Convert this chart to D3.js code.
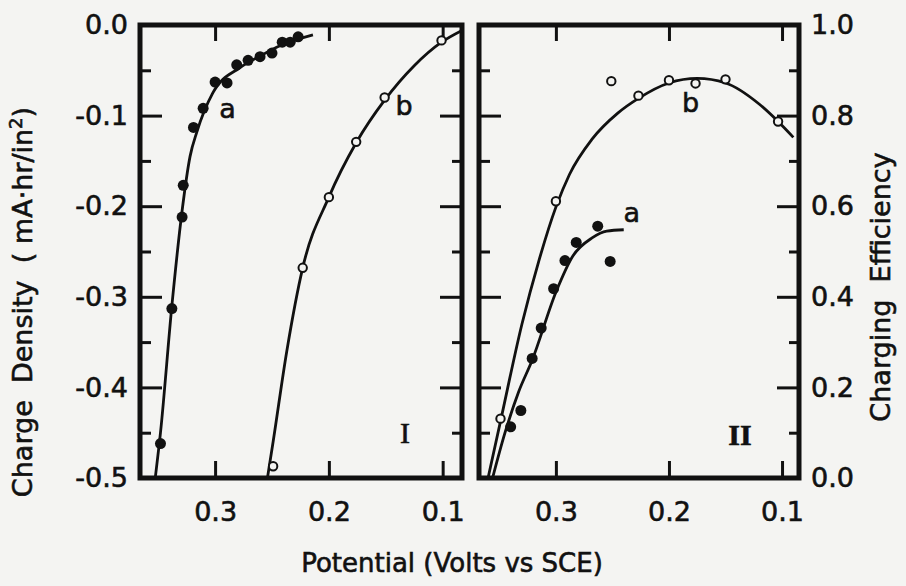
<!DOCTYPE html>
<html>
<head>
<meta charset="utf-8">
<script src="https://cdn.jsdelivr.net/npm/d3@7"></script>
<style>
  body { margin: 0; background: #f4f4f2; }
  text { font-family: "DejaVu Sans", sans-serif; fill: #111; stroke: #111; stroke-width: 0.6px; }
</style>
</head>
<body>
<div id="chart"></div>
<script>
// Panel I: charge density vs potential
var leftPointsA = [[0.348, -0.462], [0.338, -0.313], [0.329, -0.212], [0.328, -0.177], [0.319, -0.113],
    [0.3105, -0.092], [0.300, -0.063], [0.2895, -0.064], [0.281, -0.044], [0.271, -0.039],
    [0.2605, -0.035], [0.250, -0.031], [0.241, -0.019], [0.234, -0.019], [0.227, -0.013]];
var leftCurveA = [[0.3526, -0.5], [0.348, -0.45], [0.338, -0.31], [0.329, -0.205], [0.322, -0.145],
    [0.316, -0.118], [0.302, -0.075], [0.278, -0.047], [0.26, -0.034], [0.243, -0.023], [0.214, -0.011]];
var leftPointsB = [[0.249, -0.487], [0.223, -0.268], [0.200, -0.190], [0.176, -0.129], [0.151, -0.080], [0.101, -0.017]];
var leftCurveB = [[0.254, -0.5], [0.249, -0.46], [0.237, -0.36], [0.223, -0.268], [0.200, -0.19],
    [0.176, -0.13], [0.151, -0.083], [0.125, -0.045], [0.101, -0.019], [0.083, -0.006]];

// Panel II: charging efficiency vs potential
var rightPointsA = [[0.340, 0.113], [0.331, 0.149], [0.321, 0.264], [0.313, 0.331], [0.302, 0.418],
    [0.292, 0.480], [0.282, 0.520], [0.263, 0.556], [0.252, 0.478]];
var rightCurveA = [[0.356, 0], [0.345, 0.10], [0.333, 0.19], [0.321, 0.26], [0.300, 0.41],
    [0.285, 0.49], [0.268, 0.53], [0.255, 0.545], [0.240, 0.548]];
var rightPointsB = [[0.349, 0.131], [0.300, 0.611], [0.251, 0.876], [0.227, 0.844], [0.200, 0.878],
    [0.1765, 0.871], [0.150, 0.880], [0.1035, 0.787]];
var rightCurveB = [[0.360, 0], [0.349, 0.125], [0.330, 0.34], [0.315, 0.48], [0.300, 0.598], [0.288, 0.67],
    [0.268, 0.748], [0.245, 0.806], [0.227, 0.838], [0.2, 0.872], [0.175, 0.882], [0.15, 0.872],
    [0.12, 0.825], [0.1035, 0.787], [0.09, 0.752]];

var xTicks = [0.3, 0.2, 0.1];
var leftYMajor = [0.0, -0.1, -0.2, -0.3, -0.4, -0.5];
var leftYMinor = [-0.05, -0.15, -0.25, -0.35, -0.45];
var rightYMajor = [0.0, 0.2, 0.4, 0.6, 0.8, 1.0];
var rightYMinor = [0.1, 0.3, 0.5, 0.7, 0.9];

var svg = d3.select("#chart").append("svg")
    .attr("width", 906)
    .attr("height", 586);

var xL = d3.scaleLinear().domain([0.366, 0.083]).range([140, 462]);
var yL = d3.scaleLinear().domain([-0.5, 0]).range([478, 25]);
var xR = d3.scaleLinear().domain([0.368, 0.085]).range([479, 799]);
var yR = d3.scaleLinear().domain([0, 1]).range([478, 25]);

var line = d3.line().curve(d3.curveMonotoneX);
var fmt = d => d3.format(".1f")(d).replace("−", "-");

function drawPanel(x, y, yMajor, yMinor, labelSide) {
    var g = svg.append("g");
    var x0 = x.range()[0], x1 = x.range()[1];
    var y0 = y.range()[0], y1 = y.range()[1];

    // bottom axis with labels
    g.append("g")
        .attr("transform", "translate(0," + y0 + ")")
        .call(d3.axisBottom(x).tickValues(xTicks).tickSize(-17).tickPadding(24).tickFormat(fmt))
        .call(a => a.selectAll("text").style("font-size", "27px"));
    // top axis
    g.append("g")
        .attr("transform", "translate(0," + y1 + ")")
        .call(d3.axisTop(x).tickValues(xTicks).tickSize(-16).tickFormat(""));

    // left side ticks
    var left = g.append("g").attr("transform", "translate(" + x0 + ",0)");
    left.call(d3.axisLeft(y).tickValues(yMajor).tickSize(-22).tickPadding(12)
        .tickFormat(labelSide == "left" ? fmt : ""));
    left.selectAll("text").style("font-size", "27px");
    left.append("g").call(d3.axisLeft(y).tickValues(yMinor).tickSize(-11).tickFormat(""));

    // right side ticks
    var right = g.append("g").attr("transform", "translate(" + x1 + ",0)");
    right.call(d3.axisRight(y).tickValues(yMajor).tickSize(-22).tickPadding(12)
        .tickFormat(labelSide == "right" ? fmt : ""));
    right.selectAll("text").style("font-size", "27px");
    right.append("g").call(d3.axisRight(y).tickValues(yMinor).tickSize(-10).tickFormat(""));

    g.selectAll(".domain").remove();
    g.selectAll(".tick line").attr("stroke", "#111").attr("stroke-width", 3);
    g.selectAll(".tick text").attr("fill", "#111");

    // frame
    g.append("rect")
        .attr("x", x0).attr("y", y1)
        .attr("width", x1 - x0).attr("height", y0 - y1)
        .attr("fill", "none").attr("stroke", "#111").attr("stroke-width", 5);
    return g;
}

function drawSeries(g, x, y, curve, pts, filled, clipId) {
    svg.append("clipPath").attr("id", clipId).append("rect")
        .attr("x", x.range()[0]).attr("y", y.range()[1])
        .attr("width", x.range()[1] - x.range()[0]).attr("height", y.range()[0] - y.range()[1]);
    g.append("path")
        .attr("d", line(curve.map(d => [x(d[0]), y(d[1])])))
        .attr("clip-path", "url(#" + clipId + ")")
        .attr("fill", "none").attr("stroke", "#111").attr("stroke-width", 2.8);
    g.selectAll(null).data(pts).enter().append("circle")
        .attr("cx", d => x(d[0])).attr("cy", d => y(d[1]))
        .attr("r", filled ? 5.5 : 4.2)
        .attr("fill", filled ? "#111" : "#f4f4f2")
        .attr("stroke", "#111").attr("stroke-width", filled ? 0 : 2);
}

var gL = drawPanel(xL, yL, leftYMajor, leftYMinor, "left");
drawSeries(gL, xL, yL, leftCurveA, leftPointsA, true, "clipLA");
drawSeries(gL, xL, yL, leftCurveB, leftPointsB, false, "clipLB");

var gR = drawPanel(xR, yR, rightYMajor, rightYMinor, "right");
drawSeries(gR, xR, yR, rightCurveA, rightPointsA, true, "clipRA");
drawSeries(gR, xR, yR, rightCurveB, rightPointsB, false, "clipRB");

// curve and panel labels
function label(txt, px, py, size) {
    svg.append("text").attr("x", px).attr("y", py)
        .attr("text-anchor", "middle").attr("dominant-baseline", "central")
        .style("font-size", size + "px").text(txt);
}
label("a", xL(0.289), yL(-0.092), 27);
label("b", xL(0.134), yL(-0.089), 27);
label("b", xR(0.181), yR(0.828), 27);
label("a", xR(0.233), yR(0.587), 27);
svg.append("text").attr("x", 405).attr("y", 432)
    .attr("text-anchor", "middle").attr("dominant-baseline", "central")
    .style("font-family", "'Liberation Serif', serif").style("font-size", "30px").text("I");
svg.append("text").attr("x", 740).attr("y", 434)
    .attr("text-anchor", "middle").attr("dominant-baseline", "central")
    .style("font-family", "'Liberation Serif', serif").style("font-weight", "bold").style("font-size", "30px").text("II");

// axis titles
svg.append("text")
    .attr("transform", "translate(32,302) rotate(-90)")
    .attr("text-anchor", "middle")
    .style("font-size", "27px")
    .attr("xml:space", "preserve")
    .html("Charge  Density  ( mA·hr/in<tspan dy='-10' font-size='18'>2</tspan><tspan dy='10'>)</tspan>");

svg.append("text")
    .attr("transform", "translate(890,287) rotate(-90)")
    .attr("text-anchor", "middle")
    .style("font-size", "27px")
    .attr("xml:space", "preserve")
    .text("Charging  Efficiency");

svg.append("text")
    .attr("x", 452).attr("y", 572)
    .attr("text-anchor", "middle")
    .style("font-size", "26px")
    .text("Potential (Volts vs SCE)");
</script>
</body>
</html>
